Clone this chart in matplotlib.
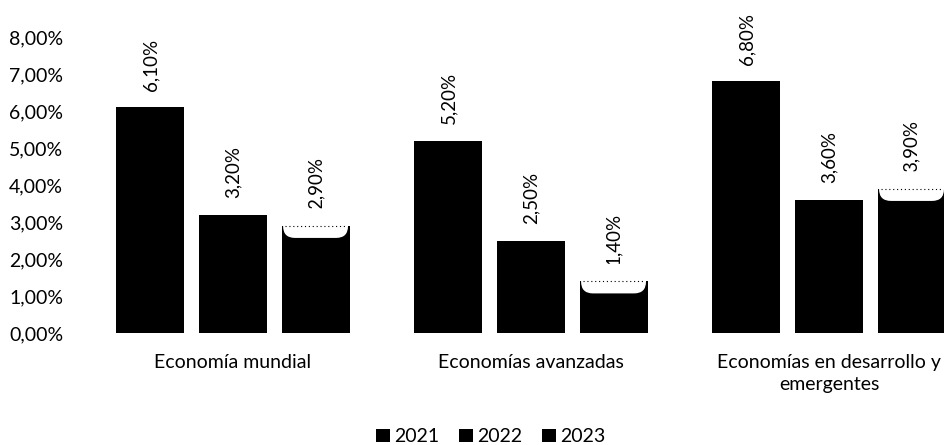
import numpy as np
import matplotlib
matplotlib.use("Agg")
import matplotlib.pyplot as plt
from matplotlib.ticker import FuncFormatter, MultipleLocator
from matplotlib.patches import Patch, FancyBboxPatch

plt.rcParams['font.family'] = ['Lato', 'DejaVu Sans']

categories = ["Economía mundial", "Economías avanzadas",
              "Economías en desarrollo y\nemergentes"]
years = ["2021", "2022", "2023"]
values = {
    "2021": [6.10, 5.20, 6.80],
    "2022": [3.20, 2.50, 3.60],
    "2023": [2.90, 1.40, 3.90],
}

fig = plt.figure(figsize=(9.44, 4.45), dpi=100)
ax = fig.add_axes([0.089, 0.2517, 0.911, 0.665])

x = np.arange(len(categories))
step = 0.277
width = 0.228
# y units per x unit on screen, for rounded tops of the 2023 bars
aspect = (8 / 296) / (2.886 / 860)
for i, yr in enumerate(years):
    pos = x + (i - 1) * step
    bars = ax.bar(pos, values[yr], width, color="black", edgecolor="none")
    for b, v in zip(bars, values[yr]):
        ax.annotate(f"{v:.2f}%".replace(".", ","),
                    (b.get_x() + b.get_width() / 2, v),
                    xytext=(0, 12), textcoords="offset points",
                    rotation=90, ha="center", va="bottom", fontsize=13.5)
        if yr == "2023":
            # scanned look: white hollow with rounded corners at the top
            inset = 0.005
            top = FancyBboxPatch((b.get_x() + inset, v - 0.33),
                                 b.get_width() - 2 * inset, 0.8,
                                 boxstyle="round,pad=0,rounding_size=0.04",
                                 mutation_aspect=aspect,
                                 facecolor="white", edgecolor="none", zorder=3)
            ax.add_patch(top)
            ax.hlines(v, b.get_x() + 0.01, b.get_x() + b.get_width() - 0.01,
                      colors="black", linestyles=(0, (1, 2.5)), linewidth=0.8,
                      zorder=4)

ax.set_ylim(0, 8)
ax.set_xlim(-0.5, 2.386)
ax.yaxis.set_major_locator(MultipleLocator(1))
ax.yaxis.set_major_formatter(FuncFormatter(lambda v, p: f"{v:.2f}%".replace(".", ",")))
ax.set_xticks(x)
ax.set_xticklabels(categories, fontsize=14, linespacing=1.4)
ax.tick_params(axis="y", length=0, pad=15, labelsize=14)
ax.tick_params(axis="x", length=0, pad=15)
for s in ax.spines.values():
    s.set_visible(False)

handles = [Patch(facecolor="black", label=yr) for yr in years]
fig.legend(handles=handles, loc="center", bbox_to_anchor=(0.52, 0.018),
           ncol=3, frameon=False, fontsize=14, handlelength=0.7,
           handleheight=0.7, handletextpad=0.25, columnspacing=1.0)

fig.savefig("out.png", dpi=100)
